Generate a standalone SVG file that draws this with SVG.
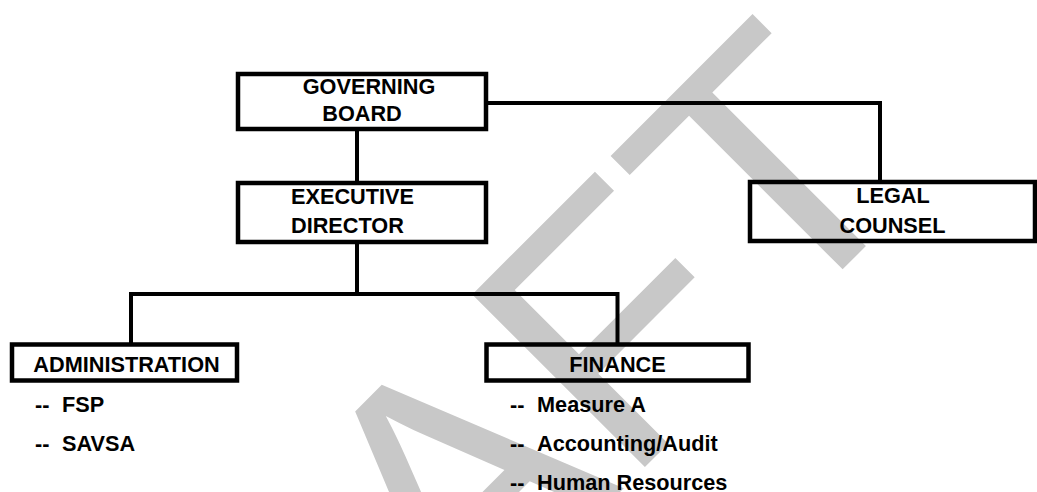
<svg xmlns="http://www.w3.org/2000/svg" width="1037" height="492" viewBox="0 0 1037 492">
<style>
.box{fill:none;stroke:#000;stroke-width:4.5}
.ln{fill:none;stroke:#000;stroke-width:4}
.lbl{font-family:"Liberation Sans",Arial,sans-serif;font-weight:bold;font-size:21.7px;fill:#000}
.c{text-anchor:middle}
.wm{font-family:"Liberation Sans",Arial,sans-serif;font-size:355px;fill:#c8c8c8}
</style>
<rect width="1037" height="492" fill="#fff"/>
<text class="wm" text-anchor="end" transform="translate(931,181) rotate(-45)">DRAFT</text>
<g id="connectors">
<line class="ln" x1="357" y1="129" x2="357" y2="183"/>
<polyline class="ln" points="486,103 880,103 880,182"/>
<line class="ln" x1="357" y1="242" x2="357" y2="294"/>
<polyline class="ln" points="131,344 131,294 617.5,294 617.5,344"/>
</g>
<g id="governing-board">
<rect class="box" x="238" y="74" width="248" height="55"/>
<text class="lbl c" x="369" y="94">GOVERNING</text>
<text class="lbl c" x="362" y="121">BOARD</text>
</g>
<g id="executive-director">
<rect class="box" x="238" y="183" width="248" height="59"/>
<text class="lbl" x="291" y="204">EXECUTIVE</text>
<text class="lbl" x="291" y="233">DIRECTOR</text>
</g>
<g id="legal-counsel">
<rect class="box" x="750" y="182" width="285" height="59"/>
<text class="lbl c" x="893" y="203">LEGAL</text>
<text class="lbl c" x="892.5" y="233">COUNSEL</text>
</g>
<g id="administration">
<rect class="box" x="12" y="344.5" width="225" height="36"/>
<text class="lbl c" x="126.5" y="372">ADMINISTRATION</text>
<text class="lbl" x="35" y="412">-- <tspan x="62">FSP</tspan></text>
<text class="lbl" x="35" y="451">-- <tspan x="62">SAVSA</tspan></text>
</g>
<g id="finance">
<rect class="box" x="486.5" y="344.5" width="262" height="36"/>
<text class="lbl c" x="617.5" y="372">FINANCE</text>
<text class="lbl" x="510" y="412">-- <tspan x="537">Measure A</tspan></text>
<text class="lbl" x="510" y="451">-- <tspan x="537">Accounting/Audit</tspan></text>
<text class="lbl" x="510" y="490">-- <tspan x="537">Human Resources</tspan></text>
</g>
</svg>
